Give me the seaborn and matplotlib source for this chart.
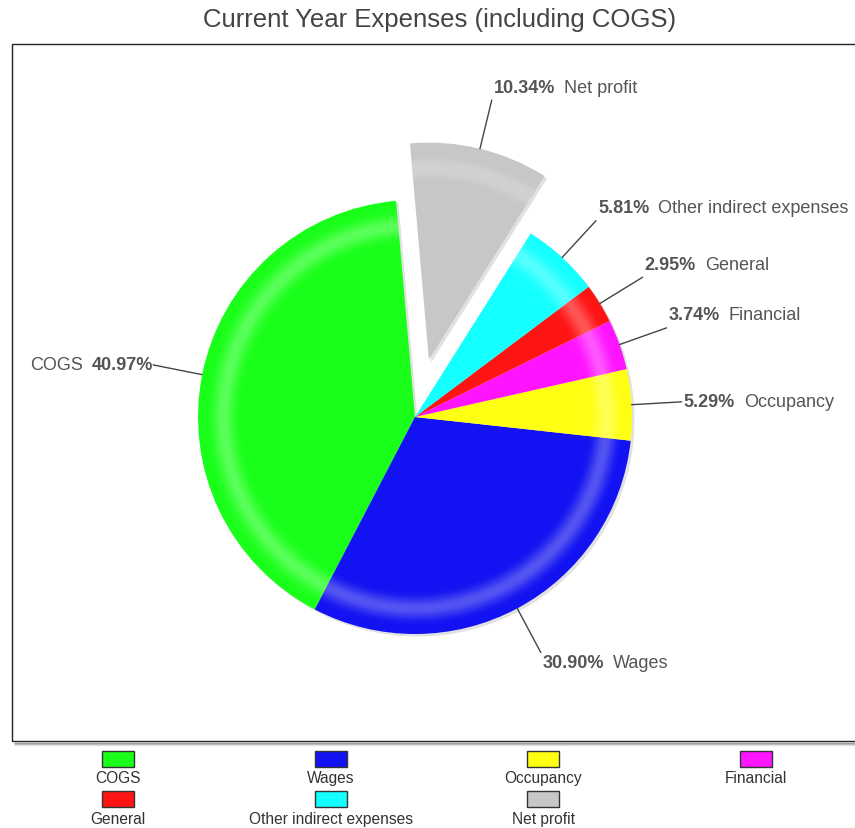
import matplotlib
matplotlib.use('Agg')
import matplotlib.pyplot as plt
import seaborn as sns
import numpy as np
from matplotlib.patches import Rectangle

# ---- data ----
categories = ['COGS', 'Wages', 'Occupancy', 'Financial', 'General',
              'Other indirect expenses', 'Net profit']
shares = [40.97, 30.90, 5.29, 3.74, 2.95, 5.81, 10.34]
colors = ['#1aff1a', '#1212f2', '#ffff14', '#ff14ff', '#ff1414', '#14ffff', '#c8c6c9']
exploded = 'Net profit'
title = 'Current Year Expenses (including COGS)'

sns.set_theme(style='white')
plt.rcParams['font.family'] = ['Liberation Sans', 'DejaVu Sans']

W, H = 855, 829
fig = plt.figure(figsize=(W / 100, H / 100), dpi=100)
ax = fig.add_axes([0, 0, 1, 1])

cx, cy = 415, H - 418
R = 217
EXP = 59
start = 95
expl = [EXP if c == exploded else 0 for c in categories]

# plot frame + shadow
ax.add_patch(Rectangle((12, H - 742), 900, 742 - 45, fill=False, ec='#222222', lw=1.0, zorder=1))
for i, a in enumerate([0.35, 0.2, 0.08]):
    ax.plot([14, W], [H - 743.5 - i, H - 743.5 - i], color='black', alpha=a, lw=1, zorder=1,
            solid_capstyle='butt')

# pie shadow
ax.pie(shares, colors=['#777777'] * len(shares), startangle=start, counterclock=True,
       explode=expl, radius=R, center=(cx + 2.5, cy - 2.5),
       wedgeprops=dict(linewidth=0, alpha=0.22, zorder=2))
# main pie
ax.pie(shares, colors=colors, startangle=start, counterclock=True,
       explode=expl, radius=R, center=(cx, cy),
       wedgeprops=dict(linewidth=0, zorder=3))

# smooth highlight ring (bevel effect) built from nested translucent rings
c_r = 0.882      # ring centre (fraction of radius)
sig = 0.052      # softness
A = 0.33         # peak whiteness
hs = np.linspace(0.11, 0.004, 28)  # half widths, widest first
prev_T = 0.0
for h in hs:
    T = A * np.exp(-(h / sig) ** 2)
    a = 1 - (1 - T) / (1 - prev_T)
    prev_T = T
    if a <= 0.002:
        continue
    ro = min(c_r + h, 0.995)
    ri = c_r - h
    ax.pie(shares, colors=['white'] * len(shares), startangle=start, counterclock=True,
           explode=expl, radius=R * ro, center=(cx, cy),
           wedgeprops=dict(linewidth=0, width=R * (ro - ri), alpha=a, zorder=4))

ax.set_xlim(0, W)
ax.set_ylim(0, H)
ax.set_aspect('auto')
ax.axis('off')

fig.canvas.draw()
renderer = fig.canvas.get_renderer()

# data labels with leader lines
txt_col = '#555555'
fs = 13
ang = start
for cat, v, e in zip(categories, shares, expl):
    span = v / 100 * 360
    mid = np.deg2rad(ang + span / 2)
    ang += span
    c, s = np.cos(mid), np.sin(mid)
    ox, oy = cx + e * c, cy + e * s
    x0, y0 = ox + R * c, oy + R * s
    x1, y1 = ox + (R + 50) * c, oy + (R + 50) * s
    ax.plot([x0, x1], [y0, y1], color='#444444', lw=1, zorder=5)
    dy = 13 if s > 0.25 else (-10 if s < -0.25 else 0)
    ty = y1 + dy
    pct = f'{v:.2f}%'
    if c >= 0:
        t = ax.text(x1 + 2, ty, pct, ha='left', va='center', fontsize=fs,
                    fontweight='bold', color=txt_col, zorder=6)
        bb = t.get_window_extent(renderer)
        ax.text(x1 + 2 + bb.width + 9, ty, cat, ha='left', va='center', fontsize=fs,
                color=txt_col, zorder=6)
    else:
        t = ax.text(x1, ty, pct, ha='right', va='center', fontsize=fs,
                    fontweight='bold', color=txt_col, zorder=6)
        bb = t.get_window_extent(renderer)
        ax.text(x1 - bb.width - 9, ty, cat, ha='right', va='center', fontsize=fs,
                color=txt_col, zorder=6)

# title
ax.text(440, H - 20, title, ha='center', va='center', fontsize=18.5, color='#444444')

# legend (4 columns, swatch above label)
ncol = 4
col_x0, col_dx = 118, 212.5
row_sw = [760, 800]
row_tx = [779, 820]
for i, (cat, col) in enumerate(zip(categories, colors)):
    r, k = divmod(i, ncol)
    x = col_x0 + k * col_dx
    ax.add_patch(Rectangle((x - 16, H - row_sw[r] - 8), 32, 16, fc=col, ec='#333333', lw=1, zorder=5))
    ax.text(x, H - row_tx[r], cat, ha='center', va='center', fontsize=11.2,
            family=['Liberation Sans Narrow', 'Liberation Sans', 'DejaVu Sans'], color='#333333')

fig.savefig('out.png', dpi=100)
